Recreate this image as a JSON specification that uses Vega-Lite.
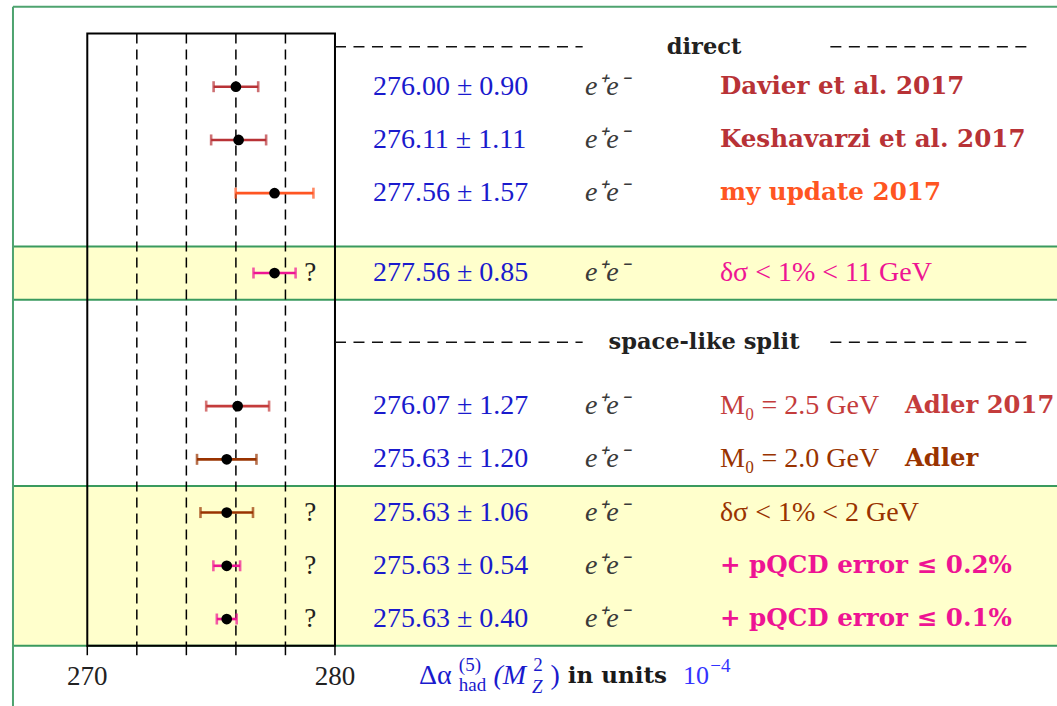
{
  "$schema": "https://vega.github.io/schema/vega-lite/v6.json",
  "width": 1057,
  "height": 706,
  "padding": 0,
  "autosize": {"type": "none"},
  "background": "white",
  "config": {
    "view": {"stroke": null},
    "axis": {"disable": true},
    "text": {"font": "Liberation Serif", "fontSize": 28, "baseline": "middle", "align": "left"}
  },
  "datasets": {
    "results": [
      {"slot": 0, "value": 276.00, "err": 0.90, "src": "Davier", "channel": "e⁺e⁻", "note": "", "ref": "Davier et al. 2017", "questioned": false},
      {"slot": 1, "value": 276.11, "err": 1.11, "src": "Keshavarzi", "channel": "e⁺e⁻", "note": "", "ref": "Keshavarzi et al. 2017", "questioned": false},
      {"slot": 2, "value": 277.56, "err": 1.57, "src": "update", "channel": "e⁺e⁻", "note": "", "ref": "my update 2017", "questioned": false},
      {"slot": 3.5, "value": 277.56, "err": 0.85, "src": "dsigma11", "channel": "e⁺e⁻", "note": "δσ < 1% < 11 GeV", "ref": "", "questioned": true},
      {"slot": 6, "value": 276.07, "err": 1.27, "src": "Adler2017", "channel": "e⁺e⁻", "note": "M₀ = 2.5 GeV", "ref": "Adler 2017", "questioned": false},
      {"slot": 7, "value": 275.63, "err": 1.20, "src": "Adler", "channel": "e⁺e⁻", "note": "M₀ = 2.0 GeV", "ref": "Adler", "questioned": false},
      {"slot": 8, "value": 275.63, "err": 1.06, "src": "dsigma2", "channel": "e⁺e⁻", "note": "δσ < 1% < 2 GeV", "ref": "", "questioned": true},
      {"slot": 9, "value": 275.63, "err": 0.54, "src": "pqcd02", "channel": "e⁺e⁻", "note": "", "ref": "+ pQCD error ≤ 0.2%", "questioned": true},
      {"slot": 10, "value": 275.63, "err": 0.40, "src": "pqcd01", "channel": "e⁺e⁻", "note": "", "ref": "+ pQCD error ≤ 0.1%", "questioned": true}
    ],
    "sections": [
      {"slot": -0.75, "title": "direct"},
      {"slot": 4.8, "title": "space-like split"}
    ],
    "bands": [
      {"from": 3, "to": 4},
      {"from": 7.5, "to": 10.5}
    ],
    "ticks": [{"at": 270}, {"at": 272}, {"at": 274}, {"at": 276}, {"at": 278}, {"at": 280}]
  },
  "layer": [
    {
      "data": {"name": "bands"},
      "mark": {"type": "rect", "fill": "#ffffcc", "clip": true},
      "encoding": {
        "x": {"datum": 267, "type": "quantitative", "scale": {"domain": [266.476, 309.15], "nice": false, "zero": false}},
        "x2": {"datum": 320},
        "y": {"field": "from", "type": "quantitative", "scale": {"domain": [-1.629, 11.634], "reverse": true, "nice": false, "zero": false}},
        "y2": {"field": "to"}
      }
    },
    {
      "data": {"name": "bands"},
      "transform": [{"fold": ["from", "to"], "as": ["edge", "level"]}],
      "mark": {"type": "rule", "stroke": "#3a9a5e", "strokeWidth": 2, "clip": true},
      "encoding": {
        "x": {"datum": 267, "type": "quantitative"},
        "x2": {"datum": 320},
        "y": {"field": "level", "type": "quantitative"}
      }
    },
    {
      "data": {"values": [{}]},
      "mark": {"type": "rule", "stroke": "#4ea36f", "strokeWidth": 2, "clip": true},
      "encoding": {
        "x": {"datum": 267, "type": "quantitative"},
        "y": {"datum": -1.5, "type": "quantitative"},
        "y2": {"datum": 12}
      }
    },
    {
      "data": {"values": [{}]},
      "mark": {"type": "rule", "stroke": "#4ea36f", "strokeWidth": 2, "clip": true},
      "encoding": {
        "x": {"datum": 267, "type": "quantitative"},
        "x2": {"datum": 320},
        "y": {"datum": -1.5, "type": "quantitative"}
      }
    },
    {
      "data": {"name": "ticks"},
      "transform": [{"filter": "datum.at > 270 && datum.at < 280"}],
      "mark": {"type": "rule", "stroke": "#000000", "strokeWidth": 1.5, "strokeDash": [10, 6]},
      "encoding": {
        "x": {"field": "at", "type": "quantitative"},
        "y": {"datum": -1, "type": "quantitative"},
        "y2": {"datum": 10.5}
      }
    },
    {
      "data": {"name": "ticks"},
      "mark": {"type": "rule", "stroke": "#000000", "strokeWidth": 1.5},
      "encoding": {
        "x": {"field": "at", "type": "quantitative"},
        "y": {"datum": 10.5, "type": "quantitative"},
        "y2": {"datum": 10.68}
      }
    },
    {
      "data": {"name": "ticks"},
      "transform": [{"filter": "datum.at == 270 || datum.at == 280"}],
      "mark": {"type": "text", "align": "center", "fontSize": 27, "color": "#222222"},
      "encoding": {
        "x": {"field": "at", "type": "quantitative"},
        "y": {"datum": 11.08, "type": "quantitative"},
        "text": {"field": "at", "type": "quantitative", "format": "d"}
      }
    },
    {
      "data": {"values": [{}]},
      "mark": {"type": "rect", "fillOpacity": 0, "stroke": "#000000", "strokeWidth": 2},
      "encoding": {
        "x": {"datum": 270, "type": "quantitative"},
        "x2": {"datum": 280},
        "y": {"datum": -1, "type": "quantitative"},
        "y2": {"datum": 10.5}
      }
    },
    {
      "data": {"name": "sections"},
      "mark": {"type": "rule", "stroke": "#111111", "strokeWidth": 1.6, "strokeDash": [11, 7.5]},
      "encoding": {
        "x": {"datum": 280, "type": "quantitative"},
        "x2": {"datum": 290},
        "y": {"field": "slot", "type": "quantitative"}
      }
    },
    {
      "data": {"name": "sections"},
      "mark": {"type": "rule", "stroke": "#111111", "strokeWidth": 1.6, "strokeDash": [11, 7.5]},
      "encoding": {
        "x": {"datum": 300, "type": "quantitative"},
        "x2": {"datum": 308},
        "y": {"field": "slot", "type": "quantitative"}
      }
    },
    {
      "data": {"name": "sections"},
      "mark": {"type": "text", "align": "center", "font": "DejaVu Serif", "fontWeight": "bold", "fontSize": 22.5, "color": "#222222"},
      "encoding": {
        "x": {"datum": 294.9, "type": "quantitative"},
        "y": {"field": "slot", "type": "quantitative"},
        "text": {"field": "title"}
      }
    },
    {
      "data": {"name": "results"},
      "mark": {"type": "errorbar", "thickness": 2.6, "ticks": {"size": 11, "thickness": 2.6}},
      "encoding": {
        "x": {"field": "value", "type": "quantitative"},
        "xError": {"field": "err"},
        "y": {"field": "slot", "type": "quantitative"},
        "color": {
          "field": "src",
          "type": "nominal",
          "legend": null,
          "scale": {
            "domain": ["Davier", "Keshavarzi", "update", "dsigma11", "Adler2017", "Adler", "dsigma2", "pqcd02", "pqcd01"],
            "range": ["#b83236", "#b83236", "#ff5522", "#ee1493", "#c43c3c", "#993300", "#993300", "#ee1493", "#ee1493"]
          }
        }
      }
    },
    {
      "data": {"name": "results"},
      "mark": {"type": "circle", "size": 115, "color": "#000000", "opacity": 1},
      "encoding": {
        "x": {"field": "value", "type": "quantitative"},
        "y": {"field": "slot", "type": "quantitative"}
      }
    },
    {
      "data": {"name": "results"},
      "transform": [{"filter": "datum.questioned"}],
      "mark": {"type": "text", "align": "center", "fontSize": 27, "color": "#222222"},
      "encoding": {
        "x": {"datum": 279, "type": "quantitative"},
        "y": {"field": "slot", "type": "quantitative"},
        "text": {"value": "?"}
      }
    },
    {
      "data": {"name": "results"},
      "transform": [{"calculate": "format(datum.value, '.2f') + ' ± ' + format(datum.err, '.2f')", "as": "reading"}],
      "mark": {"type": "text", "color": "#1a1acd"},
      "encoding": {
        "x": {"datum": 281.53, "type": "quantitative"},
        "y": {"field": "slot", "type": "quantitative"},
        "text": {"field": "reading"}
      }
    },
    {
      "data": {"name": "results"},
      "mark": {"type": "text", "fontStyle": "italic", "color": "#3a3a3a"},
      "encoding": {
        "x": {"datum": 290.09, "type": "quantitative"},
        "y": {"field": "slot", "type": "quantitative"},
        "text": {"field": "channel"}
      }
    },
    {
      "data": {"name": "results"},
      "transform": [{"filter": "datum.note != ''"}],
      "mark": {"type": "text"},
      "encoding": {
        "x": {"datum": 295.54, "type": "quantitative"},
        "y": {"field": "slot", "type": "quantitative"},
        "text": {"field": "note"},
        "color": {"field": "src", "type": "nominal", "legend": null}
      }
    },
    {
      "data": {"name": "results"},
      "transform": [{"filter": "datum.note == '' && datum.ref != ''"}],
      "mark": {"type": "text", "font": "DejaVu Serif", "fontWeight": "bold", "fontSize": 24.6},
      "encoding": {
        "x": {"datum": 295.54, "type": "quantitative"},
        "y": {"field": "slot", "type": "quantitative"},
        "text": {"field": "ref"},
        "color": {"field": "src", "type": "nominal", "legend": null}
      }
    },
    {
      "data": {"name": "results"},
      "transform": [{"filter": "datum.note != '' && datum.ref != ''"}],
      "mark": {"type": "text", "font": "DejaVu Serif", "fontWeight": "bold", "fontSize": 24.3},
      "encoding": {
        "x": {"datum": 303.01, "type": "quantitative"},
        "y": {"field": "slot", "type": "quantitative"},
        "text": {"field": "ref"},
        "color": {"field": "src", "type": "nominal", "legend": null}
      }
    },
    {
      "data": {"values": [{"t": "Δα"}]},
      "mark": {"type": "text", "color": "#1a1acd"},
      "encoding": {
        "x": {"datum": 283.39, "type": "quantitative"},
        "y": {"datum": 11.07, "type": "quantitative"},
        "text": {"field": "t"}
      }
    },
    {
      "data": {"values": [{"t": "(5)"}]},
      "mark": {"type": "text", "color": "#1a1acd", "fontSize": 19},
      "encoding": {
        "x": {"datum": 285.0, "type": "quantitative"},
        "y": {"datum": 10.86, "type": "quantitative"},
        "text": {"field": "t"}
      }
    },
    {
      "data": {"values": [{"t": "had"}]},
      "mark": {"type": "text", "color": "#1a1acd", "fontSize": 19},
      "encoding": {
        "x": {"datum": 285.0, "type": "quantitative"},
        "y": {"datum": 11.24, "type": "quantitative"},
        "text": {"field": "t"}
      }
    },
    {
      "data": {"values": [{"t": "(M"}]},
      "mark": {"type": "text", "color": "#1a1acd", "fontStyle": "italic"},
      "encoding": {
        "x": {"datum": 286.4, "type": "quantitative"},
        "y": {"datum": 11.07, "type": "quantitative"},
        "text": {"field": "t"}
      }
    },
    {
      "data": {"values": [{"t": "2"}]},
      "mark": {"type": "text", "color": "#1a1acd", "fontSize": 19},
      "encoding": {
        "x": {"datum": 288.0, "type": "quantitative"},
        "y": {"datum": 10.86, "type": "quantitative"},
        "text": {"field": "t"}
      }
    },
    {
      "data": {"values": [{"t": "Z"}]},
      "mark": {"type": "text", "color": "#1a1acd", "fontSize": 19, "fontStyle": "italic"},
      "encoding": {
        "x": {"datum": 287.95, "type": "quantitative"},
        "y": {"datum": 11.27, "type": "quantitative"},
        "text": {"field": "t"}
      }
    },
    {
      "data": {"values": [{"t": ")"}]},
      "mark": {"type": "text", "color": "#1a1acd"},
      "encoding": {
        "x": {"datum": 288.7, "type": "quantitative"},
        "y": {"datum": 11.07, "type": "quantitative"},
        "text": {"field": "t"}
      }
    },
    {
      "data": {"values": [{"t": "in units"}]},
      "mark": {"type": "text", "color": "#1a1a1a", "font": "DejaVu Serif", "fontWeight": "bold", "fontSize": 23},
      "encoding": {
        "x": {"datum": 289.4, "type": "quantitative"},
        "y": {"datum": 11.07, "type": "quantitative"},
        "text": {"field": "t"}
      }
    },
    {
      "data": {"values": [{"t": "10"}]},
      "mark": {"type": "text", "color": "#3333ff", "fontSize": 26},
      "encoding": {
        "x": {"datum": 294.05, "type": "quantitative"},
        "y": {"datum": 11.07, "type": "quantitative"},
        "text": {"field": "t"}
      }
    },
    {
      "data": {"values": [{"t": "−4"}]},
      "mark": {"type": "text", "color": "#3333ff", "fontSize": 19},
      "encoding": {
        "x": {"datum": 295.15, "type": "quantitative"},
        "y": {"datum": 10.88, "type": "quantitative"},
        "text": {"field": "t"}
      }
    }
  ]
}
